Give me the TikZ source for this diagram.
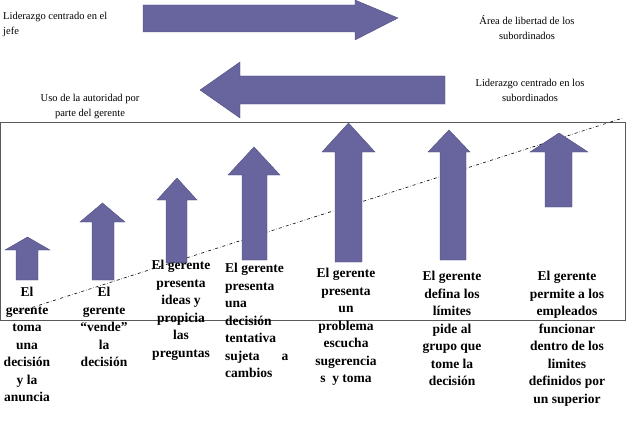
\documentclass[tikz,border=0pt]{standalone}
\usepackage{fontspec}
\setmainfont{Liberation Serif}
\begin{document}
\begin{tikzpicture}[x=1pt,y=-1pt,
  arr/.style={fill=arrowc,draw=arrowc!80!black,line width=0.4pt},
  col/.style={font=\bfseries\fontsize{13.5}{17.5}\selectfont,align=center,anchor=north,inner sep=0pt},
  lbl/.style={font=\fontsize{10.5}{15}\selectfont,align=center,inner sep=0pt}]
\definecolor{arrowc}{HTML}{67649E}
\useasboundingbox (0,0) rectangle (640,428);
% box
\draw[gray!70!black,line width=0.8pt] (0,122) rectangle (625,320);
\coordinate (d1) at (18,312); \coordinate (d2) at (623,118);
\draw[dash dot,line width=0.6pt] (d1) -- (d2);
% big arrows
\fill[arr] (143,5) -- (355,5) -- (355,0) -- (398,18) -- (355,40) -- (355,32) -- (143,32) -- cycle;
\fill[arr] (445,76) -- (240,76) -- (240,62) -- (200,90) -- (240,118) -- (240,104) -- (445,104) -- cycle;
% up arrows
\foreach \xl/\xr/\t/\hb/\sl/\sr/\b in {5/50/237/250/16/38/280, 80/125/203/222/92/114/280, 157/197/178/200/166/187/263, 228/280/147/175/242/267/260, 322/375/123/152/335/362/262, 428/470/130/152/440/466/260, 530/588/133/152/545/572/207}
  \fill[arr] (\sl,\b) -- (\sl,\hb) -- (\xl,\hb) -- ({(\xl+\xr)/2},\t) -- (\xr,\hb) -- (\sr,\hb) -- (\sr,\b) -- cycle;
% labels
\node[lbl,align=left,anchor=north west] (l1) at (3,12) {Liderazgo centrado en el\\jefe};
\node[lbl,anchor=north] (l2) at (527,15) {Área de libertad de los\\subordinados};
\node[lbl,anchor=north] (l3) at (530,79) {Liderazgo centrado en los\\subordinados};
\node[lbl,anchor=north] (l4) at (90,94) {Uso de la autoridad por\\parte del gerente};
% columns
\node[col] (c1) at (27,287) {El\\gerente\\toma\\una\\decisión\\y la\\anuncia};
\node[col] (c2) at (104,287) {El\\gerente\\“vende”\\la\\decisión};
\node[col] (c3) at (181,260) {El gerente\\presenta\\ideas y\\propicia\\las\\preguntas};
\node[col,align=left,anchor=north west] (c4) at (225,263) {El gerente\\presenta\\una\\decisión\\tentativa\\sujeta\hspace{22pt}a\\cambios};
\node[col] (c5) at (346,268) {El gerente\\presenta\\un\\problema\\escucha\\sugerencia\\s\ \ y toma};
\node[col] (c6) at (452,271) {El gerente\\defina los\\límites\\pide al\\grupo que\\tome la\\decisión};
\node[col] (c7) at (567,271) {El gerente\\permite a los\\empleados\\funcionar\\dentro de los\\limites\\definidos por\\un superior};
\end{tikzpicture}
\end{document}
